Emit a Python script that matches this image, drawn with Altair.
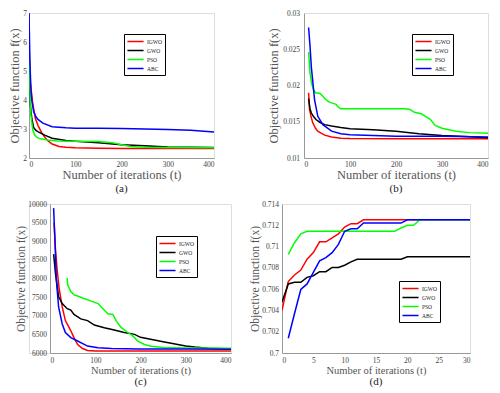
import altair as alt
import pandas as pd

SERIES = ["IGWO", "GWO", "PSO", "ABC"]
COLORS = ["#ff0000", "#000000", "#00ff00", "#0000ff"]

# ---- panel (a)
a_igwo_t = [0, 3, 8, 14, 20, 28, 35, 42, 50, 65, 80, 100, 150, 200, 300, 400]
a_igwo = [5.85, 4.6, 3.88, 3.35, 3.1, 2.86, 2.70, 2.58, 2.48, 2.40, 2.37, 2.35, 2.34, 2.33, 2.33, 2.33]
a_gwo_t = [0, 3, 6, 10, 15, 20, 35, 50, 80, 100, 150, 200, 250, 300, 350, 400]
a_gwo = [5.5, 3.8, 3.37, 3.05, 2.95, 2.9, 2.78, 2.68, 2.6, 2.58, 2.53, 2.46, 2.42, 2.38, 2.37, 2.36]
a_pso_t = [0, 2, 4, 8, 12, 18, 25, 40, 60, 100, 150, 180, 200, 220, 250, 300, 400]
a_pso = [6.0, 4.5, 3.5, 2.98, 2.8, 2.7, 2.66, 2.62, 2.59, 2.58, 2.57, 2.53, 2.46, 2.40, 2.37, 2.36, 2.35]
a_abc_t = [0, 2, 4, 6, 10, 15, 20, 30, 50, 80, 100, 150, 200, 250, 300, 350, 400]
a_abc = [7.0, 5.3, 4.4, 4.0, 3.6, 3.42, 3.32, 3.2, 3.08, 3.04, 3.03, 3.03, 3.02, 3.0, 2.98, 2.96, 2.9]

# ---- panel (b)
b_igwo_t = [10, 12, 15, 19, 25, 30, 38, 45, 60, 80, 100, 200, 300, 400]
b_igwo = [0.0190, 0.0167, 0.0158, 0.01485, 0.0141, 0.0137, 0.0134, 0.01315, 0.0129, 0.01272, 0.01268, 0.01265, 0.01265, 0.01265]
b_gwo_t = [10, 13, 16, 20, 26, 35, 45, 60, 80, 100, 150, 200, 250, 300, 350, 400]
b_gwo = [0.0182, 0.0168, 0.0162, 0.0158, 0.0153, 0.0149, 0.0146, 0.0144, 0.0142, 0.01405, 0.0139, 0.0137, 0.01335, 0.0131, 0.01295, 0.0128]
b_pso_t = [10, 13, 16, 20, 25, 35, 40, 45, 55, 65, 70, 73, 80, 220, 230, 240, 255, 265, 275, 285, 300, 330, 360, 400]
b_pso = [0.0246, 0.0218, 0.0205, 0.0195, 0.0190, 0.0189, 0.0186, 0.0182, 0.0177, 0.0175, 0.0174, 0.0171, 0.0168, 0.0168, 0.0167, 0.0163, 0.0161, 0.0157, 0.0153, 0.0145, 0.0141, 0.0137, 0.0135, 0.0134]
b_abc_t = [10, 13, 16, 20, 23, 30, 41, 60, 80, 100, 200, 300, 400]
b_abc = [0.0280, 0.0255, 0.0225, 0.0200, 0.0180, 0.01575, 0.0146, 0.0137, 0.01335, 0.0132, 0.0130, 0.0130, 0.0129]

# ---- panel (c)
c_igwo_t = [9, 12, 16, 20, 27, 34, 46, 53, 61, 72, 83, 100, 200, 300, 400]
c_igwo = [9500, 8800, 8200, 7750, 7236, 6870, 6596, 6412, 6228, 6120, 6070, 6055, 6055, 6055, 6055]
c_gwo_t = [8, 12, 19, 27, 38, 46, 53, 68, 83, 98, 120, 142, 164, 187, 200, 250, 300, 320, 350, 400]
c_gwo = [8655, 8150, 7510, 7327, 7190, 7150, 7035, 6915, 6870, 6750, 6680, 6620, 6550, 6500, 6420, 6300, 6190, 6160, 6130, 6110]
c_pso_t = [38, 39, 46, 53, 61, 75, 90, 106, 117, 128, 139, 146, 157, 172, 183, 194, 209, 224, 250, 300, 400]
c_pso = [8013, 7832, 7650, 7560, 7530, 7464, 7400, 7327, 7190, 7052, 7035, 6870, 6687, 6550, 6458, 6320, 6228, 6180, 6150, 6135, 6130]
c_abc_t = [8, 11, 14, 19, 27, 34, 46, 61, 83, 106, 136, 200, 300, 400]
c_abc = [9890, 9000, 7969, 7236, 6778, 6550, 6412, 6322, 6185, 6140, 6120, 6110, 6105, 6100]

# ---- panel (d)
d_igwo_t = [0, 1, 2, 3, 4, 5, 6, 7, 8, 9, 10, 11, 12, 13, 14, 15, 16, 17, 18, 19, 20, 21, 22, 23, 24, 25, 26, 27, 28, 29, 30]
d_igwo = [0.7040, 0.70671, 0.70733, 0.70779, 0.70881, 0.70943, 0.71045, 0.71045, 0.71082, 0.7112, 0.71184,
          0.71215, 0.71215, 0.71252, 0.71252, 0.71252, 0.71252, 0.71252, 0.71252, 0.71252, 0.71252,
          0.71252, 0.71252, 0.71252, 0.71252, 0.71252, 0.71252, 0.71252, 0.71252, 0.71252, 0.71252]
d_gwo_t = [0, 1, 2, 3, 4, 5, 6, 7, 8, 9, 10, 11, 12, 13, 14, 15, 16, 17, 18, 19, 20, 21, 22, 23, 24, 25, 26, 27, 28, 29, 30]
d_gwo = [0.70479, 0.70649, 0.70665, 0.70665, 0.70711, 0.70726, 0.70764, 0.70764, 0.70804, 0.70804, 0.70825,
         0.70856, 0.70881, 0.70881, 0.70881, 0.70881, 0.70881, 0.70881, 0.70881, 0.70881, 0.70905,
         0.70905, 0.70905, 0.70905, 0.70905, 0.70905, 0.70905, 0.70905, 0.70905, 0.70905, 0.70905]
d_pso_t = [1, 2, 3, 4, 5, 6, 7, 8, 9, 10, 11, 12, 13, 14, 15, 16, 17, 18, 19, 20, 21, 22, 23, 24, 25, 26, 27, 28, 29, 30]
d_pso = [0.70927, 0.71036, 0.7112, 0.71144, 0.71144, 0.71144, 0.71144, 0.71144, 0.71144, 0.71144,
         0.71144, 0.71144, 0.71144, 0.71144, 0.71144, 0.71144, 0.71144, 0.71144, 0.71175, 0.7120,
         0.7120, 0.71252, 0.71252, 0.71252, 0.71252, 0.71252, 0.71252, 0.71252, 0.71252, 0.71252]
d_abc_t = [1, 2, 3, 4, 5, 6, 7, 8, 9, 10, 11, 12, 13, 14, 15, 16, 17, 18, 19, 20, 21, 22, 23, 24, 25, 26, 27, 28, 29, 30]
d_abc = [0.70139, 0.70371, 0.70597, 0.70649, 0.70757, 0.70866, 0.70896, 0.70943, 0.7102, 0.71144,
         0.71168, 0.71168, 0.71221, 0.71221, 0.71221, 0.71221, 0.71221, 0.71221, 0.71221, 0.71252,
         0.71252, 0.71252, 0.71252, 0.71252, 0.71252, 0.71252, 0.71252, 0.71252, 0.71252, 0.71252]

FONT = "Liberation Serif"


def frame(pairs):
    rows = []
    for name, ts, vs in pairs:
        for i, (t, v) in enumerate(zip(ts, vs)):
            rows.append({"t": t, "v": v, "s": name, "o": i})
    return pd.DataFrame(rows)


def panel(df, xdom, xvals, ydom, yvals, yfmt, w, h, label, lx, ly, xts, yts, ytp, ylp,
          toff, xlp, xtp, inset=0):
    legend = alt.Legend(
        orient="none", legendX=lx + inset, legendY=ly, title=None,
        symbolType="M-2.3,0L2.3,0", symbolSize=49, symbolStrokeWidth=1.5,
        symbolOffset=4, labelOffset=7,
        labelFont=FONT, labelFontSize=5.5, labelColor="#222",
        strokeColor="#000", fillColor="#fff", padding=3, rowPadding=1,
        cornerRadius=0,
    )
    xscale = alt.Scale(domain=xdom, nice=False, zero=False)
    if inset:
        xscale = alt.Scale(domain=xdom, nice=False, zero=False, range=[inset, inset + w])
    yaxis_kw = {}
    if inset:
        yaxis_kw["offset"] = -inset
    return alt.Chart(df).mark_line(strokeWidth=1.5, clip=True).encode(
        x=alt.X("t:Q", scale=xscale,
                axis=alt.Axis(values=xvals, title="Number of iterations (t)", grid=False,
                              ticks=False, labelFont=FONT, labelFontSize=7.5, labelColor="#444",
                              labelPadding=xlp, titleFont=FONT, titleFontSize=xts,
                              titleFontWeight="normal", titleColor="#555", titlePadding=xtp,
                              domainColor="#999")),
        y=alt.Y("v:Q", scale=alt.Scale(domain=ydom, nice=False, zero=False),
                axis=alt.Axis(values=yvals, format=yfmt, title="Objective function f(x)", grid=False,
                              ticks=False, labelFont=FONT, labelFontSize=7.5, labelColor="#444",
                              labelPadding=ylp, titleFont=FONT, titleFontSize=yts,
                              titleFontWeight="normal", titleColor="#555", titlePadding=ytp,
                              domainColor="#999", **yaxis_kw)),
        color=alt.Color("s:N", scale=alt.Scale(domain=SERIES, range=COLORS), legend=legend),
        detail="s:N",
        order="o:Q",
    ).properties(
        width=w + inset, height=h,
        title=alt.Title(label, orient="bottom", font=FONT, fontSize=11, fontWeight="normal",
                        color="#222", offset=toff, dx=inset / 2),
    )


pa = panel(frame([("IGWO", a_igwo_t, a_igwo), ("GWO", a_gwo_t, a_gwo),
                  ("PSO", a_pso_t, a_pso), ("ABC", a_abc_t, a_abc)]),
           [0, 400], [0, 100, 200, 300, 400], [2, 7], [2, 3, 4, 5, 6, 7], "d",
           185, 145, "(a)", 95, 21, 12.5, 12.5, 1, 2.5, 2, 2, 1)
pb = panel(frame([("IGWO", b_igwo_t, b_igwo), ("GWO", b_gwo_t, b_gwo),
                  ("PSO", b_pso_t, b_pso), ("ABC", b_abc_t, b_abc)]),
           [0, 400], [0, 100, 200, 300, 400], [0.01, 0.03], [0.01, 0.015, 0.02, 0.025, 0.03], "~g",
           184, 145, "(b)", 108, 21, 12.5, 12.5, 2, 4.5, 2, 2, 1)
pc = panel(frame([("IGWO", c_igwo_t, c_igwo), ("GWO", c_gwo_t, c_gwo),
                  ("PSO", c_pso_t, c_pso), ("ABC", c_abc_t, c_abc)]),
           [0, 400], [0, 100, 200, 300, 400], [6000, 10000],
           [6000, 6500, 7000, 7500, 8000, 8500, 9000, 9500, 10000], "d",
           181, 149, "(c)", 106, 32, 10.5, 11.5, 1, 3.5, 0, 3, 2, inset=21)
pd_ = panel(frame([("IGWO", d_igwo_t, d_igwo), ("GWO", d_gwo_t, d_gwo),
                   ("PSO", d_pso_t, d_pso), ("ABC", d_abc_t, d_abc)]),
            [0, 30], [0, 5, 10, 15, 20, 25, 30], [0.7, 0.714],
            [0.7, 0.702, 0.704, 0.706, 0.708, 0.71, 0.712, 0.714], "~g",
            188, 149, "(d)", 117, 77, 10.5, 11.5, 1, 3.5, 0, 3, 2)

row1 = alt.hconcat(pa, pb, spacing=52).resolve_scale(color="independent")
row2 = alt.hconcat(pc, pd_, spacing=17).resolve_scale(color="independent")
chart = alt.vconcat(row1, row2, spacing=4).resolve_scale(color="independent").properties(
    padding={"left": 0, "top": 0, "right": 0, "bottom": 0}
).configure_view(stroke=None).configure(background="white")

chart.save("out.html", embed_options={"renderer": "svg", "actions": False})
